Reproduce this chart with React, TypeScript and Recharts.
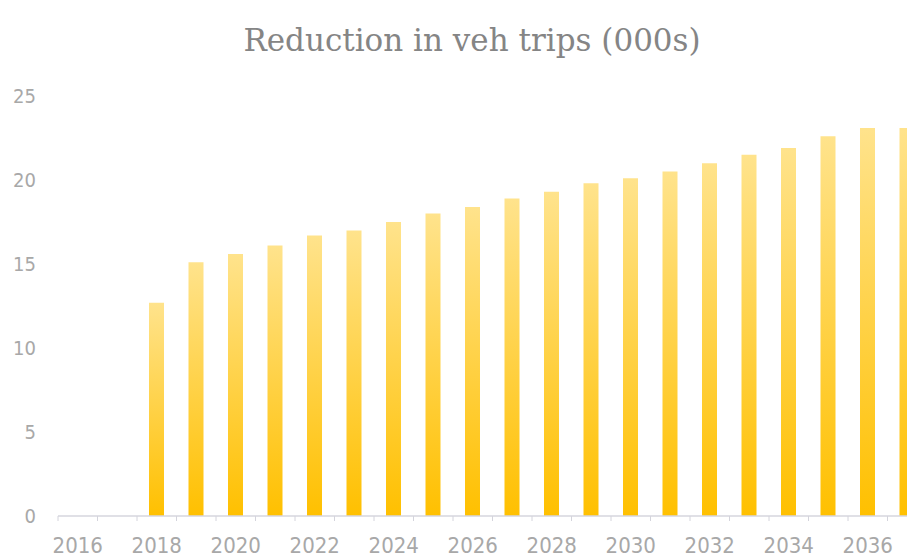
import React from 'react';
import { BarChart, Bar, XAxis, YAxis } from 'recharts';

const years = [
  '2016', '2017', '2018', '2019', '2020', '2021', '2022', '2023', '2024', '2025', '2026',
  '2027', '2028', '2029', '2030', '2031', '2032', '2033', '2034', '2035', '2036', '2037',
];
const tripReduction: (number | null)[] = [
  null, null, 12.7, 15.1, 15.6, 16.1, 16.7, 17.0, 17.5, 18.0, 18.4,
  18.9, 19.3, 19.8, 20.1, 20.5, 21.0, 21.5, 21.9, 22.6, 23.1, 23.1,
];
const yTicks = [0, 5, 10, 15, 20, 25];
const labelYears = years.filter((_, i) => i % 2 === 0);
const title = 'Reduction in veh trips (000s)';

const data = years.map((year, i) => ({ year, value: tripReduction[i] }));

const CHART_W = 929;
const CHART_H = 550;
const Y_AXIS_W = 50;
const MARGIN = { top: 88, right: 10, left: 0, bottom: 0 };
const PLOT_W = CHART_W - Y_AXIS_W - MARGIN.left - MARGIN.right;
const BAND = PLOT_W / years.length;

const LABEL_FONT = '"Liberation Sans Narrow", "DejaVu Sans Condensed", Inter, sans-serif';
const LABEL_COLOR = '#a8a8a8';

function XTick(props: any) {
  const { x, y, payload } = props;
  const show = labelYears.includes(payload.value);
  return (
    <g>
      <line x1={x - BAND / 2} x2={x - BAND / 2} y1={y} y2={y + 5} stroke="#d4d4dc" strokeWidth={1} />
      {show && (
        <text
          x={x}
          y={y + 29}
          textAnchor="middle"
          dominantBaseline="central"
          fill={LABEL_COLOR}
          fontSize={22}
          fontFamily={LABEL_FONT}
        >
          {payload.value}
        </text>
      )}
    </g>
  );
}

export default function App() {
  return (
    <div style={{ width: 907, height: CHART_H, overflow: 'hidden', position: 'relative', background: '#fff' }}>
      <div
        style={{
          position: 'absolute',
          left: 0,
          top: 14,
          width: 928,
          textAlign: 'center',
          fontFamily: '"DejaVu Serif", serif',
          fontSize: 31,
          lineHeight: '36px',
          color: '#858585',
          whiteSpace: 'nowrap',
        }}
      >
        {title}
      </div>
      <BarChart width={CHART_W} height={CHART_H} data={data} margin={MARGIN}>
        <defs>
          <linearGradient id="barGrad" x1="0" y1="0" x2="0" y2="1">
            <stop offset="0%" stopColor="#FFE38C" />
            <stop offset="100%" stopColor="#FFC000" />
          </linearGradient>
        </defs>
        <XAxis
          dataKey="year"
          interval={0}
          tickLine={false}
          tickSize={0}
          tickMargin={0}
          height={42}
          axisLine={{ stroke: '#d6d6de', strokeWidth: 1.5 }}
          tick={XTick}
        />
        <YAxis
          width={Y_AXIS_W}
          domain={[0, 25]}
          ticks={yTicks}
          axisLine={false}
          tickLine={false}
          tickSize={0}
          tickMargin={22}
          tick={{ fill: LABEL_COLOR, fontSize: 20, fontFamily: LABEL_FONT }}
        />
        <Bar dataKey="value" fill="url(#barGrad)" barSize={15} isAnimationActive={false} />
      </BarChart>
    </div>
  );
}
